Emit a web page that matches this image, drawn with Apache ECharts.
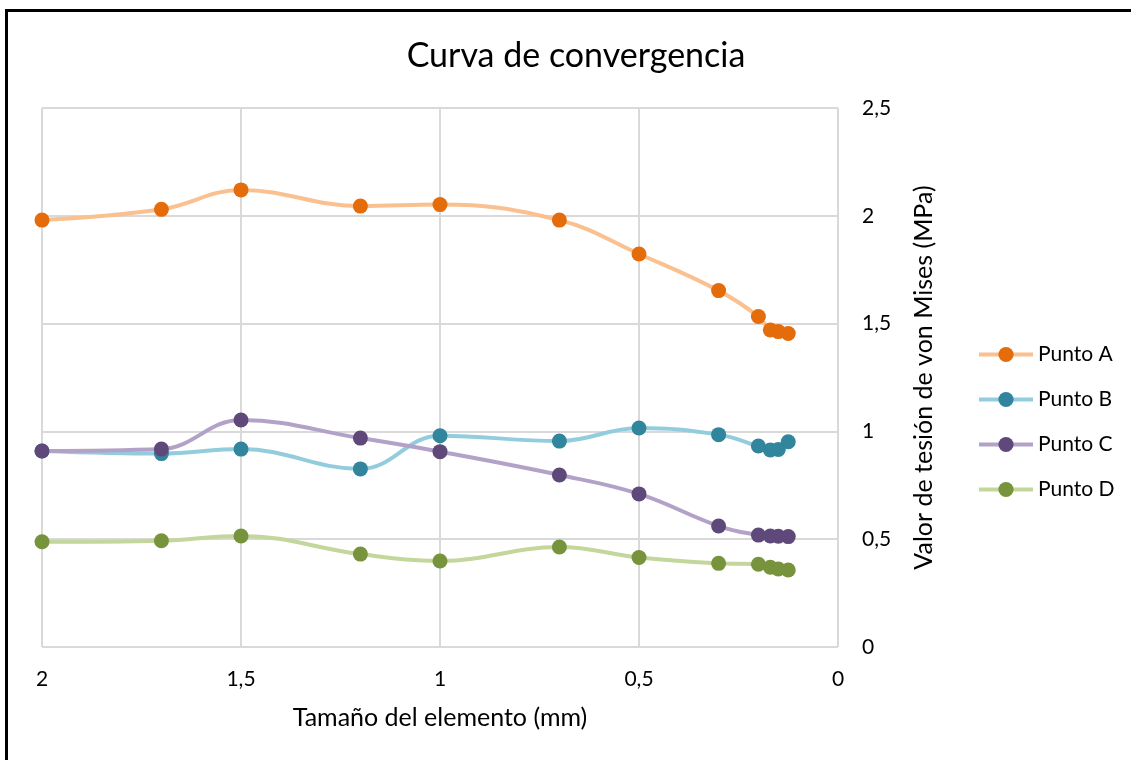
<!DOCTYPE html>
<html>
<head>
<meta charset="utf-8">
<style>
  html, body { margin: 0; padding: 0; background: #fff; overflow: hidden; }
  #frame { position: absolute; left: 5px; top: 9px; width: 3000px; height: 3000px; border: 3px solid #000; box-sizing: border-box; }
  #chart { position: absolute; left: 0; top: 0; width: 1131px; height: 760px; }
</style>
<script src="https://cdn.jsdelivr.net/npm/echarts@6/dist/echarts.min.js"></script>
</head>
<body>
<div id="frame"></div>
<div id="chart"></div>
<script>
// Element size (mm) and von Mises stress (MPa) at four points
const tamanos = [2, 1.7, 1.5, 1.2, 1.0, 0.7, 0.5, 0.3, 0.2, 0.17, 0.15, 0.125];
const puntoA = [1.98, 2.03, 2.12, 2.045, 2.052, 1.98, 1.823, 1.653, 1.533, 1.47, 1.463, 1.454];
const puntoB = [0.909, 0.897, 0.918, 0.826, 0.98, 0.955, 1.016, 0.985, 0.932, 0.914, 0.916, 0.952];
const puntoC = [0.909, 0.918, 1.053, 0.969, 0.906, 0.798, 0.71, 0.561, 0.519, 0.515, 0.514, 0.512];
const puntoD = [0.488, 0.493, 0.515, 0.431, 0.399, 0.464, 0.415, 0.388, 0.384, 0.37, 0.362, 0.357];

const seriesNames = ['Punto A', 'Punto B', 'Punto C', 'Punto D'];
const seriesValues = [puntoA, puntoB, puntoC, puntoD];
const markerColors = ['#E46C0A', '#31859C', '#5F497A', '#77933C'];
const lineColors = ['#FAC090', '#93CDDD', '#B3A2C7', '#C3D69B'];

const FONT = 'Lato';
const comma = v => String(v).replace('.', ',');

const chart = echarts.init(document.getElementById('chart'), null, { renderer: 'canvas' });

const series = seriesNames.map((name, i) => ({
  name: name,
  type: 'line',
  smooth: 0.4,
  symbol: 'circle',
  symbolSize: 15,
  data: tamanos.map((x, j) => [x, seriesValues[i][j]]),
  lineStyle: { color: lineColors[i], width: 4 },
  itemStyle: { color: markerColors[i], borderWidth: 0 },
  emphasis: { disabled: true },
  z: 2 + i
}));

chart.setOption({
  animation: false,
  backgroundColor: 'transparent',
  title: {
    text: 'Curva de convergencia',
    left: 571, top: 34, textAlign: 'center',
    textStyle: { fontFamily: FONT, fontSize: 34, fontWeight: 'normal', color: '#000' }
  },
  legend: {
    orient: 'vertical',
    left: 977, top: 344,
    padding: 0,
    itemGap: 24,
    itemWidth: 54, itemHeight: 19,
    itemStyle: { borderWidth: 0 },
    data: seriesNames.map((n, i) => ({
      name: n,
      itemStyle: { color: markerColors[i] },
      lineStyle: { color: lineColors[i], width: 4 }
    })),
    textStyle: { fontFamily: FONT, fontSize: 21, color: '#000', padding: [0, 0, 0, 0] }
  },
  grid: { left: 42, right: 293, top: 108, bottom: 113, containLabel: false },
  xAxis: {
    type: 'value',
    inverse: true,
    min: 0, max: 2, interval: 0.5,
    name: 'Tamaño del elemento (mm)',
    nameLocation: 'middle',
    nameGap: 58,
    nameTextStyle: { fontFamily: FONT, fontSize: 25, color: '#000' },
    axisLine: { show: false },
    axisTick: { show: false },
    axisLabel: { margin: 22, fontFamily: FONT, fontSize: 21, color: '#000', formatter: comma },
    splitLine: { show: true, lineStyle: { color: '#D9D9D9', width: 2 } }
  },
  yAxis: {
    type: 'value',
    position: 'right',
    min: 0, max: 2.5, interval: 0.5,
    name: 'Valor de tesión de von Mises (MPa)',
    nameLocation: 'middle',
    nameRotate: 90,
    nameGap: 73,
    nameTextStyle: { fontFamily: FONT, fontSize: 25, color: '#000' },
    axisLine: { show: false },
    axisTick: { show: false },
    axisLabel: { margin: 24, fontFamily: FONT, fontSize: 21, color: '#000', formatter: comma },
    splitLine: { show: true, lineStyle: { color: '#D9D9D9', width: 2 } }
  },
  series: series
});
</script>
</body>
</html>
